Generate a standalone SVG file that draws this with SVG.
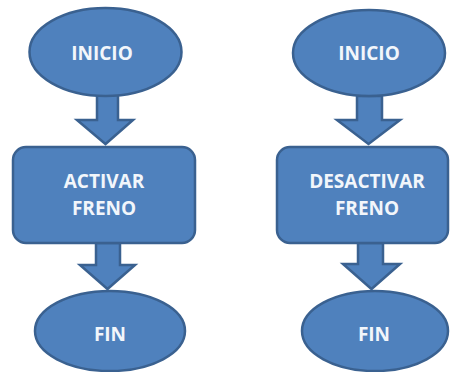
<svg xmlns="http://www.w3.org/2000/svg" width="450" height="372" viewBox="0 0 450 372">
<style>
.s{fill:#4F81BD;stroke:#3A6190;stroke-width:2.5}
.t{font-family:"Open Sans","Liberation Sans",sans-serif;font-weight:bold;font-size:19px;fill:#F2F6FB;text-anchor:middle}
</style>
<rect width="450" height="372" fill="#FFFFFF"/>
<g id="connectors">
<path class="s" d="M97,94 H118 V120 H133 L105.5,144 L77,120 H97 Z"/>
<path class="s" d="M96,243 H120 V265 H135 L107.5,289 L80,265 H96 Z"/>
<path class="s" d="M357,96 H382 V120 H400 L368.5,144 L337,120 H357 Z"/>
<path class="s" d="M358,243 H383 V264 H400 L371.5,289 L343,264 H358 Z"/>
</g>
<g id="inicio1"><ellipse class="s" cx="105.5" cy="52" rx="76" ry="44"/><text class="t" x="102" y="60">INICIO</text></g>
<g id="activar"><rect class="s" x="13" y="147" width="182" height="96" rx="13"/><text class="t" x="104" y="188">ACTIVAR</text><text class="t" x="104" y="215">FRENO</text></g>
<g id="fin1"><ellipse class="s" cx="110" cy="331" rx="75" ry="40"/><text class="t" x="110" y="341">FIN</text></g>
<g id="inicio2"><ellipse class="s" cx="369" cy="53" rx="76" ry="43"/><text class="t" x="369" y="60">INICIO</text></g>
<g id="desactivar"><rect class="s" x="277" y="147" width="171" height="96" rx="13"/><text class="t" x="367" y="188">DESACTIVAR</text><text class="t" x="367" y="215">FRENO</text></g>
<g id="fin2"><ellipse class="s" cx="375" cy="331" rx="73" ry="40"/><text class="t" x="374" y="341">FIN</text></g>
</svg>
